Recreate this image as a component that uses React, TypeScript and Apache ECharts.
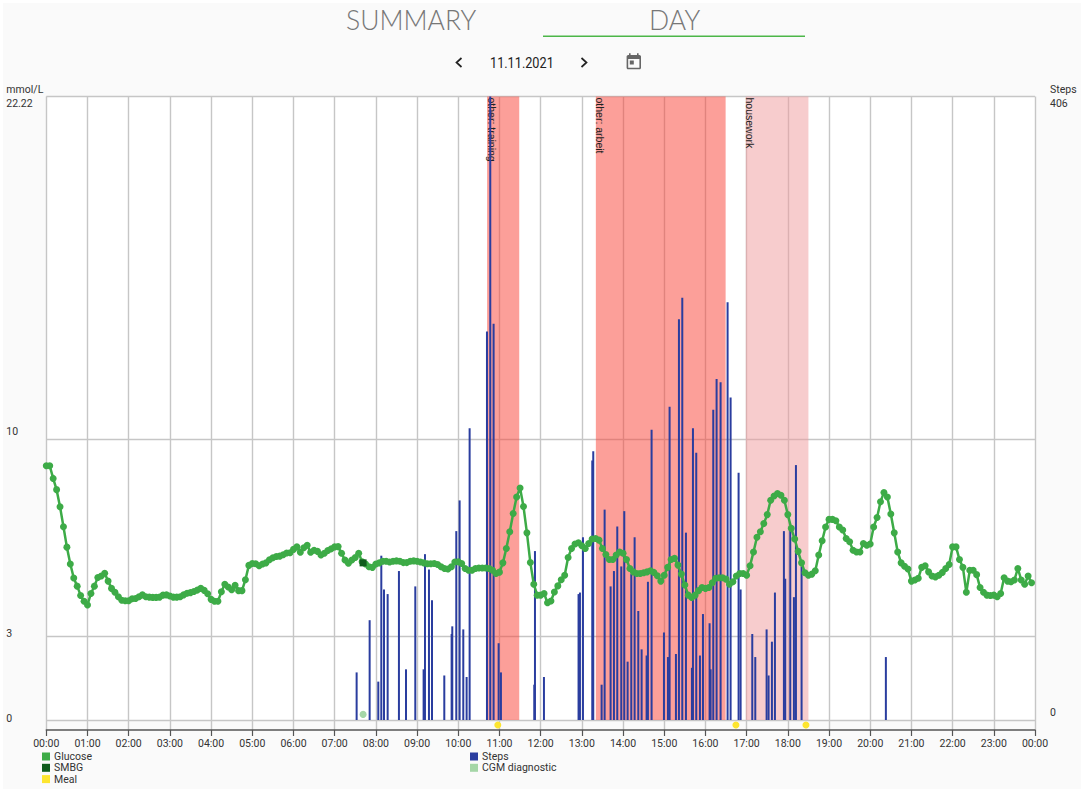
import * as echarts from "echarts";
import { type FC, useEffect, useRef } from "react";

// glucose in mmol/L, one reading every 5 minutes from 00:00
const glucoseValues = [
  9.06, 9.06, 8.61, 8.21, 7.6, 6.89, 6.16, 5.56, 5.06, 4.77, 4.44, 4.23,
  4.1, 4.51, 4.77, 5.08, 5.13, 5.23, 4.95, 4.69, 4.55, 4.39, 4.27, 4.25,
  4.25, 4.32, 4.33, 4.39, 4.46, 4.39, 4.38, 4.37, 4.37, 4.38, 4.45, 4.46,
  4.42, 4.38, 4.38, 4.39, 4.46, 4.52, 4.54, 4.58, 4.63, 4.69, 4.62, 4.5,
  4.3, 4.23, 4.23, 4.57, 4.84, 4.74, 4.64, 4.8, 4.61, 4.61, 5.0, 5.51,
  5.58, 5.57, 5.5, 5.56, 5.6, 5.71, 5.78, 5.83, 5.84, 5.89, 5.95, 5.96,
  6.08, 6.17, 5.98, 6.14, 6.23, 5.98, 6.05, 6.01, 5.88, 5.94, 6.04, 6.1,
  6.17, 6.18, 5.94, 5.7, 5.59, 5.7, 5.79, 5.94, 5.64, 5.56, 5.46, 5.44,
  5.56, 5.6, 5.66, 5.66, 5.63, 5.66, 5.67, 5.66, 5.61, 5.61, 5.66, 5.67,
  5.66, 5.63, 5.6, 5.57, 5.57, 5.58, 5.54, 5.46, 5.4, 5.38, 5.46, 5.63,
  5.64, 5.58, 5.4, 5.34, 5.34, 5.4, 5.42, 5.42, 5.42, 5.4, 5.34, 5.22,
  5.27, 5.6, 6.11, 6.71, 7.36, 7.95, 8.27, 7.61, 6.67, 5.61, 4.84, 4.45,
  4.45, 4.51, 4.18, 4.24, 4.56, 4.78, 5.0, 5.16, 5.79, 6.11, 6.27, 6.32,
  6.21, 6.11, 6.29, 6.45, 6.47, 6.41, 6.11, 5.9, 5.72, 5.72, 5.88, 5.99,
  5.94, 5.72, 5.4, 5.28, 5.22, 5.22, 5.25, 5.28, 5.32, 5.26, 5.14, 4.95,
  5.16, 5.44, 5.72, 5.76, 5.52, 5.2, 4.81, 4.45, 4.37, 4.45, 4.61, 4.72,
  4.69, 4.72, 4.89, 5.05, 5.07, 5.07, 5.02, 4.84, 4.93, 5.13, 5.22, 5.22,
  5.16, 5.5, 5.99, 6.51, 6.71, 7.0, 7.32, 7.83, 7.98, 8.07, 8.01, 7.83,
  7.32, 6.83, 6.45, 6.01, 5.6, 5.25, 5.16, 5.2, 5.32, 5.88, 6.39, 6.88,
  7.15, 7.15, 7.1, 6.88, 6.77, 6.47, 6.35, 6.05, 5.99, 5.99, 6.29, 6.23,
  6.27, 6.88, 7.22, 7.78, 8.11, 7.95, 7.34, 6.67, 5.99, 5.6, 5.48, 5.38,
  4.95, 4.99, 5.05, 5.44, 5.5, 5.28, 5.13, 5.1, 5.16, 5.26, 5.4, 5.54,
  6.17, 6.17, 5.72, 5.44, 4.55, 5.34, 5.34, 5.18, 4.72, 4.55, 4.45, 4.44,
  4.45, 4.39, 4.51, 5.07, 4.95, 4.93, 4.99, 5.4, 4.99, 4.84, 5.13, 4.89,
];

// hour of day, step count
const stepHours = [
  7.533, 7.849, 8.059, 8.132, 8.197, 8.286, 8.56, 8.731, 8.957, 9.159, 9.192,
  9.289, 9.362, 9.661, 9.839, 9.855, 9.952, 10.033, 10.122, 10.203, 10.276,
  10.697, 10.777, 10.858, 10.98, 11.036, 11.845, 11.862, 12.08, 12.92, 12.954,
  13.027, 13.253, 13.277, 13.48, 13.553, 13.698, 13.779, 13.86, 13.957, 14.03,
  14.111, 14.2, 14.281, 14.37, 14.451, 14.572, 14.604, 14.693, 14.993, 15.09,
  15.13, 15.284, 15.357, 15.438, 15.527, 15.672, 15.697, 15.777, 15.867, 15.94,
  16.101, 16.126, 16.19, 16.271, 16.368, 16.538, 16.611, 16.805, 16.854,
  17.137, 17.21, 17.485, 17.533, 17.614, 17.687, 17.905, 17.937, 18.059,
  18.148, 18.197, 18.334, 20.38,
];
const stepCounts = [
  31, 65, 25, 107, 85, 82, 97, 33, 87, 33, 108,
  98, 78, 29, 56, 61, 123, 143, 59, 28, 190,
  253, 406, 258, 50, 31, 23, 110, 28, 82, 83,
  119, 169, 175, 23, 137, 87, 97, 126, 100, 136,
  38, 95, 119, 71, 46, 42, 90, 189, 57, 41,
  204, 43, 261, 275, 122, 34, 190, 174, 42, 69,
  63, 33, 202, 222, 220, 272, 210, 161, 85,
  56, 41, 59, 29, 51, 83, 123, 92, 124,
  80, 166, 100, 41,
];

const smbgPoints = [[7.69, 5.6]];
const mealHours = [10.96, 16.74, 18.44];
const cgmDiagnosticHours = [7.69];

const bands = [
  { name: "other: training", from: 10.7, to: 11.48, color: "rgba(250,64,52,0.5)" },
  { name: "other: arbeit", from: 13.34, to: 16.49, color: "rgba(250,64,52,0.5)" },
  { name: "housework", from: 16.98, to: 18.5, color: "rgba(239,153,155,0.5)" },
];

const hourLabels = [
  "00:00", "01:00", "02:00", "03:00", "04:00", "05:00", "06:00", "07:00", "08:00",
  "09:00", "10:00", "11:00", "12:00", "13:00", "14:00", "15:00", "16:00", "17:00",
  "18:00", "19:00", "20:00", "21:00", "22:00", "23:00", "00:00",
];
const glucoseTicks = [0, 3, 10, 22.22];
const stepTicks = [0, 406];

const GLUCOSE_MIN = -0.356;
const STEPS_MIN = -6.5;
const STEPS_MAX = 406;
const GLUCOSE_MAX = 22.22;

const GREEN = "#3dab47";
const FONT = "Roboto, sans-serif";

const CALENDAR =
  "M19 3h-1V1h-2v2H8V1H6v2H5c-1.11 0-1.99.9-1.99 2L3 19c0 1.1.89 2 2 2h14c1.1 0 2-.9 2-2V5c0-1.1-.9-2-2-2zm0 16H5V8h14v11zM7 10h5v5H7z";
echarts.graphic.registerShape("calendar", echarts.graphic.extendPath(CALENDAR, {}) as any);

const leftLabel: Record<string, string> = { "22.22": "top", "10": "up", "3": "low", "0": "low" };
const rightLabel: Record<string, string> = { "406": "top", "0": "up" };

const labelRich = {
  top: { fontSize: 10.5, color: "#333", fontFamily: FONT, padding: [14, 0, 0, 0] },
  up: { fontSize: 10.5, color: "#333", fontFamily: FONT, padding: [0, 0, 15, 0] },
  low: { fontSize: 10.5, color: "#333", fontFamily: FONT, padding: [0, 0, 4, 0] },
};

const chevron = (x: number, dir: number) => ({
  type: "polyline",
  shape: { points: [[x + 2.5 * dir, 58], [x - 2.5 * dir, 62.5], [x + 2.5 * dir, 67]] },
  style: { stroke: "#222", lineWidth: 1.7, fill: "none" },
});

const legendBase = {
  top: 751,
  orient: "vertical",
  padding: 0,
  itemWidth: 8,
  itemHeight: 8,
  itemGap: 0.3,
  itemStyle: { borderWidth: 0 },
  icon: "rect",
  textStyle: { fontSize: 10.5, color: "#333", padding: [0, 0, 0, -1] },
};

const App: FC = () => {
  const chartRef = useRef<HTMLDivElement | null>(null);

  useEffect(() => {
    if (!chartRef.current) return;
    const chart = echarts.init(chartRef.current, null, { renderer: "svg" });
    chart.setOption({
      animation: false,
      textStyle: { fontFamily: FONT },
      grid: { left: 46.3, right: 49, top: 96.5, bottom: 64 },
      xAxis: {
        type: "value",
        min: 0,
        max: 24,
        interval: 1,
        axisLine: { onZero: false, lineStyle: { color: "#555", width: 1.5 } },
        axisTick: { length: 6, lineStyle: { color: "#555", width: 1.2 } },
        axisLabel: {
          margin: 8,
          fontSize: 10.5,
          color: "#333",
          showMinLabel: true,
          showMaxLabel: true,
          formatter: (v: number) => hourLabels[v],
        },
        splitLine: { show: true, lineStyle: { color: "#c6c6c6", width: 1.4 } },
      },
      yAxis: [
        {
          type: "value",
          min: GLUCOSE_MIN,
          max: GLUCOSE_MAX,
          name: "mmol/L",
          nameLocation: "end",
          nameGap: 2,
          nameTextStyle: { align: "right", fontSize: 10.5, color: "#333", padding: [0, 3, 0, 0] },
          axisLine: { show: false },
          axisTick: { show: false },
          splitLine: { show: false },
          axisLabel: {
            customValues: glucoseTicks,
            align: "left",
            margin: 40,
            formatter: (v: number) => `{${leftLabel[String(v)]}|${v}}`,
            rich: labelRich,
          },
        },
        {
          type: "value",
          min: STEPS_MIN,
          max: STEPS_MAX,
          position: "right",
          name: "Steps",
          nameLocation: "end",
          nameGap: 2,
          nameTextStyle: { align: "left", fontSize: 10.5, color: "#333", padding: [0, 0, 0, 15] },
          axisLine: { show: false },
          axisTick: { show: false },
          splitLine: { show: false },
          axisLabel: {
            customValues: stepTicks,
            align: "left",
            margin: 15,
            formatter: (v: number) => `{${rightLabel[String(v)]}|${v}}`,
            rich: labelRich,
          },
        },
      ],
      legend: [
        { ...legendBase, left: 42, data: ["Glucose", "SMBG", "Meal"] },
        { ...legendBase, left: 470, data: ["Steps", "CGM diagnostic"] },
      ],
      series: [
        {
          // white plot area and the horizontal rules, behind everything
          name: "frame",
          type: "line",
          data: [],
          silent: true,
          markArea: {
            z: -2,
            silent: true,
            itemStyle: { color: "#fff" },
            data: [[{ xAxis: 0, yAxis: 0 }, { xAxis: 24, yAxis: GLUCOSE_MAX }]],
          },
          markLine: {
            z: 0,
            silent: true,
            symbol: "none",
            label: { show: false },
            lineStyle: { color: "#c6c6c6", width: 1.4, type: "solid" },
            data: glucoseTicks.map((t) => ({ yAxis: t })),
          },
        },
        {
          name: "Steps",
          type: "bar",
          yAxisIndex: 1,
          barWidth: 2,
          itemStyle: { color: "#2a3d9f" },
          data: stepHours.map((h, i) => [h, stepCounts[i]]),
          markArea: {
            silent: true,
            label: {
              show: true,
              position: "insideTopLeft",
              rotate: -90,
              distance: 0,
              // the offset turns with the label: x runs down the page, y runs leftwards
              offset: [1, -10],
              fontFamily: "Liberation Sans, sans-serif",
              fontSize: 10.5,
              color: "#222",
            },
            data: bands.map((b) => [
              { name: b.name, xAxis: b.from, yAxis: 0, itemStyle: { color: b.color } },
              { xAxis: b.to, yAxis: STEPS_MAX },
            ]),
          },
        },
        {
          name: "Glucose",
          type: "line",
          symbol: "circle",
          symbolSize: 7,
          showSymbol: true,
          showAllSymbol: true,
          itemStyle: { color: GREEN },
          lineStyle: { color: GREEN, width: 2.5 },
          data: glucoseValues.map((v, i) => [i / 12, v]),
        },
        {
          name: "SMBG",
          type: "scatter",
          symbol: "rect",
          symbolSize: 7,
          z: 3,
          itemStyle: { color: "#0f5c1c", opacity: 1 },
          data: smbgPoints,
        },
        {
          name: "Meal",
          type: "scatter",
          symbolSize: 7,
          itemStyle: { color: "#fde52f", opacity: 1 },
          data: mealHours.map((h) => [h, -0.18]),
        },
        {
          name: "CGM diagnostic",
          type: "scatter",
          symbolSize: 7,
          itemStyle: { color: "#a5d6a7", opacity: 1 },
          data: cgmDiagnosticHours.map((h) => [h, 0.2]),
        },
      ],
      graphic: [
        { type: "rect", z: -10, shape: { x: 3, y: 3, width: 1078, height: 786 }, style: { fill: "#fafafa" } },
        {
          type: "text",
          x: 346,
          y: 6,
          style: { text: "SUMMARY", font: "300 26.5px Lato, sans-serif", fill: "#777" },
        },
        {
          type: "text",
          x: 649,
          y: 6,
          style: { text: "DAY", font: "300 26.5px Lato, sans-serif", fill: "#777" },
        },
        { type: "rect", shape: { x: 543, y: 35.6, width: 262, height: 1.3 }, style: { fill: "#4cb648" } },
        {
          type: "text",
          x: 490,
          y: 55,
          scaleX: 0.82,
          style: { text: "11.11.2021", font: "15.5px Roboto, sans-serif", fill: "#222" },
        },
        chevron(459, 1),
        chevron(584, -1),
        { type: "calendar", x: 624.2, y: 52.5, scaleX: 0.8, scaleY: 0.8, style: { fill: "#666" } },
      ],
    });
    return () => {
      chart.dispose();
    };
  }, []);

  return (
    <div
      ref={chartRef}
      style={{ position: "absolute", left: 0, top: 0, width: 1084, height: 794, background: "#fff" }}
    />
  );
};

export default App;
